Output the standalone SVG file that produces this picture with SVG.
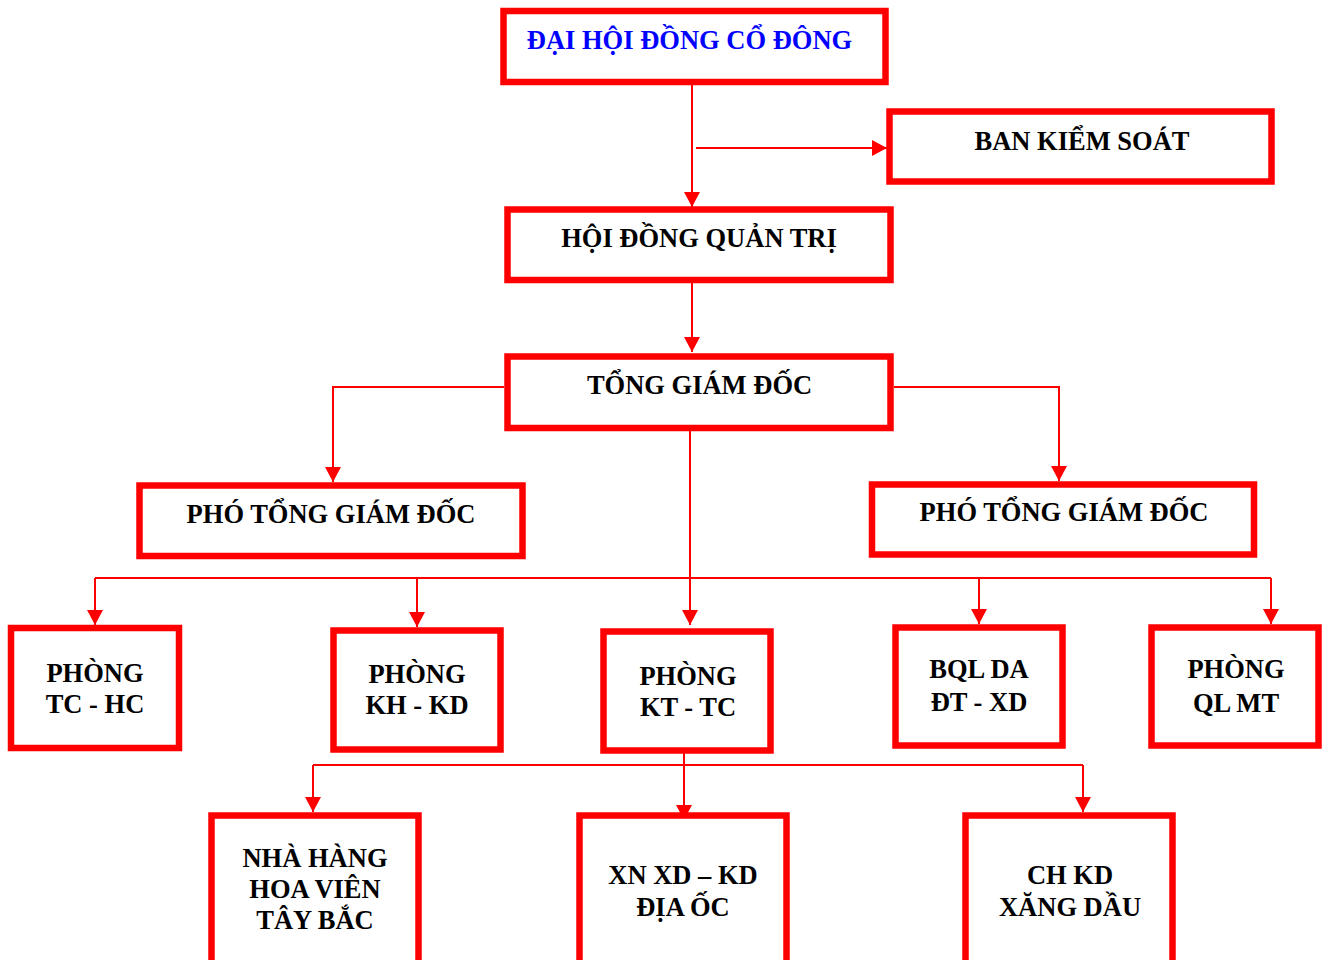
<svg xmlns="http://www.w3.org/2000/svg" width="1327" height="960" viewBox="0 0 1327 960">
<style>
.box{fill:#fff;stroke:#ff0000;stroke-width:6.5}
.t{font-family:"Liberation Serif","Times New Roman",serif;font-weight:bold;font-size:26.5px;fill:#000;text-anchor:middle}
.blue{fill:#0000ff}
.c{fill:none;stroke:#ff0000;stroke-width:2}
</style>
<defs>
<marker id="arr" markerUnits="userSpaceOnUse" markerWidth="16" markerHeight="16" refX="15" refY="8" orient="auto">
<path d="M0,0 L15,8 L0,16 z" fill="#ff0000"/>
</marker>
</defs>
<rect width="1327" height="960" fill="#fff"/>
<g id="connectors">
<path class="c" d="M692,85 V207" marker-end="url(#arr)"/>
<path class="c" d="M696,148 H887" marker-end="url(#arr)"/>
<path class="c" d="M692,283 V352" marker-end="url(#arr)"/>
<path class="c" d="M504,387 H333 V482" marker-end="url(#arr)"/>
<path class="c" d="M894,387 H1059 V481" marker-end="url(#arr)"/>
<path class="c" d="M690,431 V625" marker-end="url(#arr)"/>
<path class="c" d="M95,578 H1271"/>
<path class="c" d="M95,578 V625" marker-end="url(#arr)"/>
<path class="c" d="M417,578 V627" marker-end="url(#arr)"/>
<path class="c" d="M979,578 V624" marker-end="url(#arr)"/>
<path class="c" d="M1271,578 V624" marker-end="url(#arr)"/>
<path class="c" d="M684,753 V820" marker-end="url(#arr)"/>
<path class="c" d="M313,765 H1083"/>
<path class="c" d="M313,765 V812" marker-end="url(#arr)"/>
<path class="c" d="M1083,765 V812" marker-end="url(#arr)"/>
</g>
<g id="n-dhdcd"><rect class="box" x="503.5" y="11" width="382" height="71"/><text class="t blue" x="689.5" y="49">ĐẠI HỘI ĐỒNG CỔ ĐÔNG</text></g>
<g id="n-bks"><rect class="box" x="889.5" y="111.5" width="382" height="70"/><text class="t" x="1082" y="150">BAN KIỂM SOÁT</text></g>
<g id="n-hdqt"><rect class="box" x="507.5" y="209.5" width="383" height="70.5"/><text class="t" x="699" y="247">HỘI ĐỒNG QUẢN TRỊ</text></g>
<g id="n-tgd"><rect class="box" x="507.5" y="356.5" width="383" height="71.5"/><text class="t" x="699.5" y="394">TỔNG GIÁM ĐỐC</text></g>
<g id="n-ptgd1"><rect class="box" x="139.5" y="485.5" width="383" height="70.5"/><text class="t" x="331" y="523">PHÓ TỔNG GIÁM ĐỐC</text></g>
<g id="n-ptgd2"><rect class="box" x="872" y="484.5" width="382" height="70"/><text class="t" x="1064" y="521">PHÓ TỔNG GIÁM ĐỐC</text></g>
<g id="n-tchc"><rect class="box" x="11" y="628" width="168" height="120"/><text class="t" x="95" y="682">PHÒNG</text><text class="t" x="95" y="713">TC - HC</text></g>
<g id="n-khkd"><rect class="box" x="333.5" y="630.5" width="167" height="119"/><text class="t" x="417" y="683">PHÒNG</text><text class="t" x="417" y="714">KH - KD</text></g>
<g id="n-kttc"><rect class="box" x="603.5" y="631.5" width="167" height="119"/><text class="t" x="688" y="685">PHÒNG</text><text class="t" x="688" y="716">KT - TC</text></g>
<g id="n-bql"><rect class="box" x="895.5" y="627.5" width="167" height="118"/><text class="t" x="979" y="678">BQL DA</text><text class="t" x="979" y="711">ĐT - XD</text></g>
<g id="n-qlmt"><rect class="box" x="1151.5" y="627.5" width="167" height="118"/><text class="t" x="1236" y="678">PHÒNG</text><text class="t" x="1236" y="712">QL MT</text></g>
<g id="n-nhahang"><rect class="box" x="211.5" y="815.5" width="207" height="170"/><text class="t" x="315" y="867">NHÀ HÀNG</text><text class="t" x="315" y="898">HOA VIÊN</text><text class="t" x="315" y="929">TÂY BẮC</text></g>
<g id="n-xnxd"><rect class="box" x="579.5" y="815.5" width="207" height="170"/><text class="t" x="683" y="884">XN XD – KD</text><text class="t" x="683" y="916">ĐỊA ỐC</text></g>
<g id="n-chkd"><rect class="box" x="965.5" y="815.5" width="207" height="170"/><text class="t" x="1070" y="884">CH KD</text><text class="t" x="1070" y="916">XĂNG DẦU</text></g>
</svg>
